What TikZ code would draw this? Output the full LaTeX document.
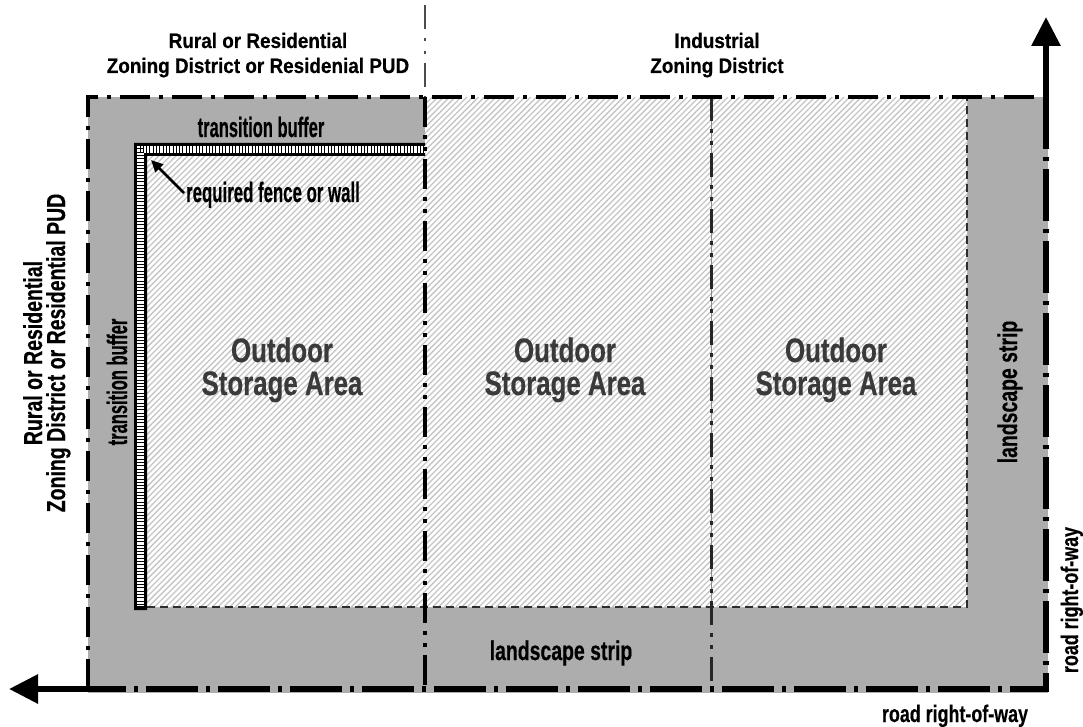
\documentclass[tikz,border=0pt]{standalone}
\usepackage{fontspec}
\setmainfont{Liberation Sans}[BoldFeatures={FakeBold=0.5}]
\usepackage{graphicx}
\usetikzlibrary{arrows.meta}
\definecolor{zone}{RGB}{173,173,173}
\definecolor{hatchc}{RGB}{198,198,198}
\definecolor{txtgray}{RGB}{58,58,58}
\definecolor{edgec}{RGB}{45,45,45}
\newcommand{\lbl}[3]{{\fontsize{#1}{#1}\selectfont\bfseries\scalebox{#2}[1]{#3}}}
\begin{document}
\begin{tikzpicture}[x=1pt,y=-1pt,
  every node/.style={inner sep=0pt, outer sep=0pt},
  bordershort/.style={line width=4.5pt, dash pattern=on 30pt off 9pt on 4pt off 9pt},
  borderlong/.style={line width=6.5pt, dash pattern=on 52pt off 8pt on 4pt off 8pt},
  divA/.style={line width=3.5pt, dash pattern=on 30pt off 8pt on 4pt off 8pt on 4pt off 8pt},
  divB/.style={line width=3pt, black!85, dash pattern=on 24pt off 8pt on 4pt off 8pt on 4pt off 8pt},
  hedge/.style={line width=2pt, edgec, dash pattern=on 8pt off 5pt},
  hatchline/.style={hatchc, line width=1.3pt},
  tick/.style={black, line width=1pt},
  bigarrow/.style={line width=6pt, -{Triangle[length=29pt,width=28pt]}},
  smallarrow/.style={line width=2.5pt, -{Triangle[length=12pt,width=11pt]}},
  storage/.style={text=txtgray, anchor=base}
]
\useasboundingbox (0,0) rectangle (1083,727);

% gray zone
\fill[zone] (88,97) rectangle (1048,693);

% hatched storage area
\begin{scope}
  \clip (147,156) -- (425,156) -- (425,97) -- (967,97) -- (967,607) -- (147,607) -- cycle;
  \fill[white] (100,90) rectangle (1000,620);
  \foreach \i in {0,...,270} {
    \draw[hatchline] ({-420+5.8*\i},607) -- ({-420+5.8*\i+510},97);
  }
\end{scope}
\draw[line width=0.8pt, black!45] (711,97) -- (711,607);
\draw[hedge] (147,607) -- (967,607) -- (967,97);

% fence
\fill[black] (134,143) -- (425,143) -- (425,156) -- (147,156) -- (147,610) -- (134,610) -- cycle;
\fill[white] (137,146) rectangle (425,153);
\fill[white] (137,146) rectangle (144,606);
\foreach \k in {0,...,86} { \draw[tick] ({140+3.3*\k},146) -- ({140+3.3*\k},153); }
\foreach \k in {0,...,138} { \draw[tick] (137,{149+3.3*\k}) -- (144,{149+3.3*\k}); }

% dividers
\draw[line width=2pt, black!70, dash pattern=on 24pt off 9pt on 3pt off 10pt on 3pt off 9pt] (425,5) -- (425,97);
\draw[divA] (425,97) -- (425,690);
\draw[divB] (711,97) -- (711,690);

% outer border
\draw[bordershort] (88,689) -- (88,97) -- (1046,97);
\draw[borderlong] (1046,97) -- (1046,689) -- (88,689);

% arrows
\coordinate (tr) at (1046,100);
\coordinate (uptip) at (1046,17);
\coordinate (bl) at (91,689);
\coordinate (lefttip) at (9,689);
\draw[bigarrow] (tr) -- (uptip);
\draw[bigarrow] (bl) -- (lefttip);

% header labels
\node[anchor=base] (hdrA1) at (258,48) {\lbl{21}{0.9}{Rural or Residential}};
\node[anchor=base] (hdrA2) at (258,73) {\lbl{21}{0.9}{Zoning District or Residenial PUD}};
\node[anchor=base] (hdrB1) at (717,48) {\lbl{21}{0.9}{Industrial}};
\node[anchor=base] (hdrB2) at (717,73) {\lbl{21}{0.9}{Zoning District}};

% left vertical labels
\node[anchor=base, rotate=90] (sideA1) at (42,353) {\lbl{26}{0.75}{Rural or Residential}};
\node[anchor=base, rotate=90] (sideA2) at (65,353) {\lbl{26}{0.75}{Zoning District or Residential PUD}};

% buffers and fence
\node[anchor=base] (tbTop) at (261,137) {\lbl{28}{0.59}{transition buffer}};
\node[anchor=base, rotate=90] (tbLeft) at (127,382) {\lbl{28}{0.59}{transition buffer}};
\node[anchor=base] (fencelbl) at (273,202) {\lbl{28}{0.6}{required fence or wall}};
\coordinate (fencestart) at (184,193);
\coordinate (fencecorner) at (151,160);
\draw[smallarrow] (fencestart) -- (fencecorner);

% storage labels
\node[storage] (s1a) at (282,362) {\lbl{34}{0.76}{Outdoor}};
\node[storage] (s1b) at (282,395) {\lbl{34}{0.76}{Storage Area}};
\node[storage] (s2a) at (565,362) {\lbl{34}{0.76}{Outdoor}};
\node[storage] (s2b) at (565,395) {\lbl{34}{0.76}{Storage Area}};
\node[storage] (s3a) at (836,362) {\lbl{34}{0.76}{Outdoor}};
\node[storage] (s3b) at (836,395) {\lbl{34}{0.76}{Storage Area}};

% landscape strips
\node[anchor=base] (lsBottom) at (561,660) {\lbl{27}{0.72}{landscape strip}};
\node[anchor=base, rotate=90] (lsRight) at (1017,392) {\lbl{27}{0.72}{landscape strip}};

% road right-of-way
\node[anchor=base] (rowBottom) at (955,722) {\lbl{24}{0.745}{road right-of-way}};
\node[anchor=base, rotate=90] (rowRight) at (1078,600) {\lbl{24}{0.745}{road right-of-way}};
\end{tikzpicture}
\end{document}
